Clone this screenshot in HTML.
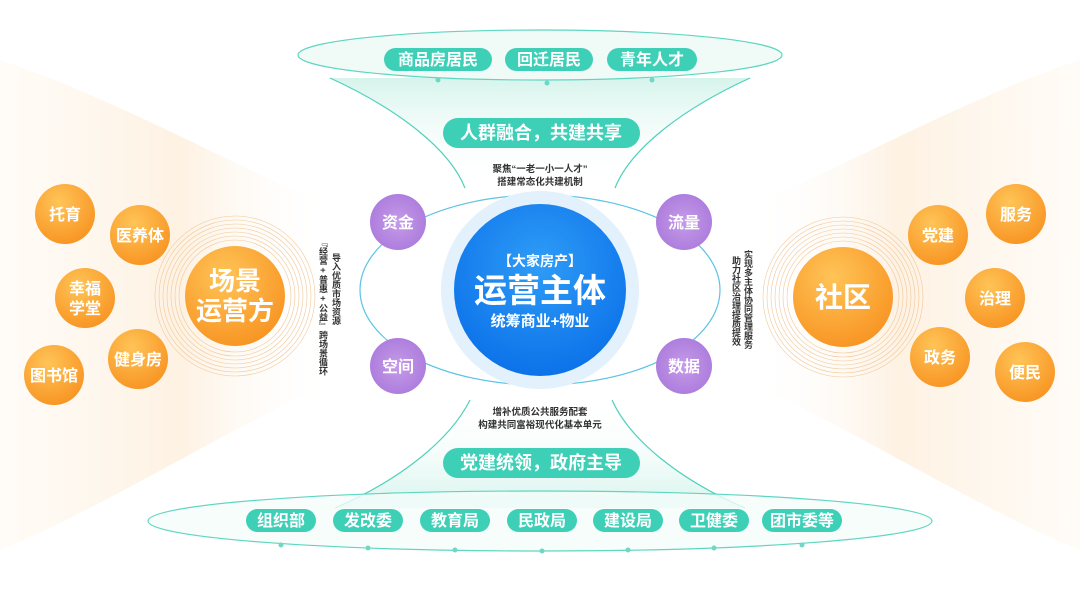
<!DOCTYPE html>
<html><head><meta charset="utf-8"><style>
html,body{margin:0;padding:0;background:#fff;width:1080px;height:608px;overflow:hidden}
svg text{font-family:"Liberation Sans","Noto Sans CJK SC",sans-serif;font-weight:bold}
</style></head><body>
<svg width="1080" height="608" viewBox="0 0 1080 608" xmlns="http://www.w3.org/2000/svg">
<defs>
<linearGradient id="fanL" x1="0" x2="1" y1="0" y2="0"><stop offset="0" stop-color="#fff6ea" stop-opacity="0.4"/><stop offset="0.55" stop-color="#fdeedb" stop-opacity="0.8"/><stop offset="1" stop-color="#fff" stop-opacity="0"/></linearGradient>
<linearGradient id="fanR" x1="1" x2="0" y1="0" y2="0"><stop offset="0" stop-color="#fff6ea" stop-opacity="0.4"/><stop offset="0.55" stop-color="#fdeedb" stop-opacity="0.8"/><stop offset="1" stop-color="#fff" stop-opacity="0"/></linearGradient>
<linearGradient id="funT" x1="0" x2="0" y1="0" y2="1"><stop offset="0" stop-color="#d6f4ec"/><stop offset="1" stop-color="#fff" stop-opacity="0"/></linearGradient>
<linearGradient id="funB" x1="0" x2="0" y1="1" y2="0"><stop offset="0" stop-color="#d6f4ec"/><stop offset="1" stop-color="#fff" stop-opacity="0"/></linearGradient>
<radialGradient id="org" cx="0.4" cy="0.3" r="0.8"><stop offset="0" stop-color="#ffc457"/><stop offset="1" stop-color="#f7901e"/></radialGradient>
<radialGradient id="blue" cx="0.5" cy="0.35" r="0.7"><stop offset="0" stop-color="#2e9cf7"/><stop offset="1" stop-color="#0a6fe8"/></radialGradient>
<radialGradient id="pur" cx="0.5" cy="0.5" r="0.6"><stop offset="0" stop-color="#c59be8"/><stop offset="1" stop-color="#a978db"/></radialGradient>
</defs>
<path d="M0 60 C120 100 240 170 330 205 L330 385 C240 420 120 500 0 550 Z" fill="url(#fanL)"/>
<path d="M1080 60 C960 100 840 170 750 205 L750 385 C840 420 960 500 1080 550 Z" fill="url(#fanR)"/>
<!-- top funnel -->
<path d="M330 78 C400 110 450 150 465 188 L615 188 C630 150 680 110 750 78 Z" fill="url(#funT)"/>
<path d="M330 78 C400 110 450 150 465 188 M750 78 C680 110 630 150 615 188" stroke="#4fd1bb" stroke-width="1.2" fill="none"/>
<ellipse cx="540" cy="55" rx="242" ry="25" fill="#f0fbf8" stroke="#5fd6c0" stroke-width="1.2"/>
<circle cx="438" cy="80" r="2.5" fill="#6fd8c5"/><circle cx="547" cy="83" r="2.5" fill="#6fd8c5"/><circle cx="652" cy="80" r="2.5" fill="#6fd8c5"/>
<g fill="#3ecfb7"><rect x="384" y="48" width="108" height="23" rx="11.5"/><rect x="505" y="48" width="88" height="23" rx="11.5"/><rect x="607" y="48" width="90" height="23" rx="11.5"/><rect x="443" y="118" width="197" height="30" rx="15"/></g>
<g fill="#fff" font-size="16" text-anchor="middle"><text x="438" y="65">商品房居民</text><text x="549" y="65">回迁居民</text><text x="652" y="65">青年人才</text><text x="541" y="139" font-size="18">人群融合，共建共享</text></g>
<g font-size="9.5" fill="#333" text-anchor="middle"><text x="540" y="172">聚焦“一老一小一人才”</text><text x="540" y="185">搭建常态化共建机制</text></g>
<!-- bottom funnel -->
<path d="M335 508 C400 480 450 440 470 400 L612 400 C630 440 680 480 745 508 Z" fill="url(#funB)"/>
<path d="M335 508 C400 480 450 440 470 400 M745 508 C680 480 630 440 612 400" stroke="#4fd1bb" stroke-width="1.2" fill="none"/>
<g font-size="9.5" fill="#333" text-anchor="middle"><text x="540" y="415">增补优质公共服务配套</text><text x="540" y="428">构建共同富裕现代化基本单元</text></g>
<rect x="443" y="448" width="197" height="30" rx="15" fill="#3ecfb7"/>
<text x="541" y="469" font-size="18" fill="#fff" text-anchor="middle">党建统领，政府主导</text>
<ellipse cx="540" cy="521" rx="392" ry="30" fill="#f4fcfa" fill-opacity="0.8" stroke="#5fd6c0" stroke-width="1.2"/>
<g fill="#6fd8c5"><circle cx="281" cy="545" r="2.5"/><circle cx="368" cy="548" r="2.5"/><circle cx="455" cy="550" r="2.5"/><circle cx="542" cy="551" r="2.5"/><circle cx="628" cy="550" r="2.5"/><circle cx="714" cy="548" r="2.5"/><circle cx="802" cy="545" r="2.5"/></g>
<g fill="#3ecfb7"><rect x="246" y="509" width="70" height="23" rx="11.5"/><rect x="333" y="509" width="70" height="23" rx="11.5"/><rect x="420" y="509" width="70" height="23" rx="11.5"/><rect x="507" y="509" width="70" height="23" rx="11.5"/><rect x="593" y="509" width="70" height="23" rx="11.5"/><rect x="679" y="509" width="70" height="23" rx="11.5"/><rect x="762" y="509" width="80" height="23" rx="11.5"/></g>
<g fill="#fff" font-size="16" text-anchor="middle"><text x="281" y="526">组织部</text><text x="368" y="526">发改委</text><text x="455" y="526">教育局</text><text x="542" y="526">民政局</text><text x="628" y="526">建设局</text><text x="714" y="526">卫健委</text><text x="802" y="526">团市委等</text></g>
<!-- orbit -->
<ellipse cx="540" cy="290" rx="180" ry="95" fill="none" stroke="#5bc3e6" stroke-width="1.2"/>
<circle cx="540" cy="290" r="99" fill="#e3f1fc"/>
<circle cx="540" cy="290" r="86" fill="url(#blue)"/>
<g fill="#fff" text-anchor="middle"><text x="540" y="266" font-size="14" font-weight="normal">【大家房产】</text><text x="540" y="302" font-size="33">运营主体</text><text x="540" y="326" font-size="15">统筹商业+物业</text></g>
<g fill="url(#pur)"><circle cx="398" cy="222" r="28"/><circle cx="684" cy="222" r="28"/><circle cx="398" cy="366" r="28"/><circle cx="684" cy="366" r="28"/></g>
<g fill="#fff" font-size="16" text-anchor="middle"><text x="398" y="228">资金</text><text x="684" y="228">流量</text><text x="398" y="372">空间</text><text x="684" y="372">数据</text></g>
<g fill="none" stroke="#f0c89a" stroke-width="0.6"><circle cx="235" cy="296" r="56"/><circle cx="235" cy="296" r="60"/><circle cx="235" cy="296" r="64"/><circle cx="235" cy="296" r="68"/><circle cx="235" cy="296" r="72"/><circle cx="235" cy="296" r="76"/><circle cx="235" cy="296" r="80"/></g>
<g fill="none" stroke="#f0c89a" stroke-width="0.6"><circle cx="843" cy="297" r="56"/><circle cx="843" cy="297" r="60"/><circle cx="843" cy="297" r="64"/><circle cx="843" cy="297" r="68"/><circle cx="843" cy="297" r="72"/><circle cx="843" cy="297" r="76"/><circle cx="843" cy="297" r="80"/></g>
<g fill="url(#org)"><circle cx="235" cy="296" r="50"/><circle cx="65" cy="214" r="30"/><circle cx="140" cy="235" r="30"/><circle cx="85" cy="298" r="30"/><circle cx="54" cy="375" r="30"/><circle cx="138" cy="359" r="30"/>
<circle cx="843" cy="297" r="50"/><circle cx="938" cy="235" r="30"/><circle cx="1016" cy="214" r="30"/><circle cx="995" cy="298" r="30"/><circle cx="940" cy="357" r="30"/><circle cx="1025" cy="372" r="30"/></g>
<g fill="#fff" font-size="16" text-anchor="middle"><text x="65" y="220">托育</text><text x="140" y="241">医养体</text><text x="85" y="294">幸福</text><text x="85" y="314">学堂</text><text x="54" y="381">图书馆</text><text x="138" y="365">健身房</text>
<text x="938" y="241">党建</text><text x="1016" y="220">服务</text><text x="995" y="304">治理</text><text x="940" y="363">政务</text><text x="1025" y="378">便民</text>
<text x="235" y="290" font-size="26">场景</text><text x="235" y="320" font-size="26">运营方</text><text x="843" y="307" font-size="28">社区</text></g>
<g font-size="9" fill="#333" style="writing-mode:tb">
<text x="336" y="253">导入优质市场资源</text><text x="323" y="238">『经营 + 普惠 + 公益』跨场景循环</text>
<text x="748" y="250">实现多主体协同管理服务</text><text x="736" y="256">助力社区治理提质提效</text></g>
</svg>
</body></html>
